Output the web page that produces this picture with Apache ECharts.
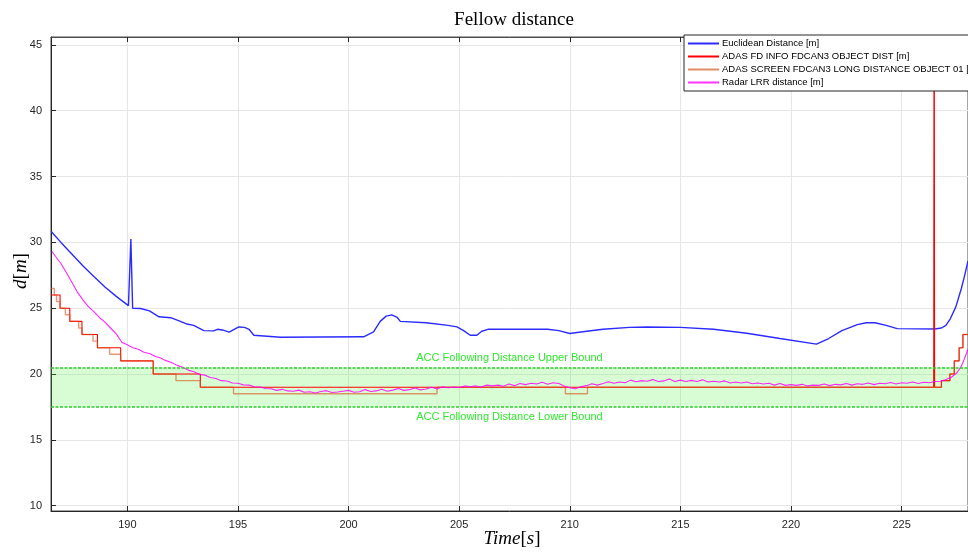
<!DOCTYPE html>
<html>
<head>
<meta charset="utf-8">
<script src="https://cdn.jsdelivr.net/npm/echarts@6/dist/echarts.min.js"></script>
<style>
  html, body { margin: 0; padding: 0; background: #fff; }
  #chart { width: 968px; height: 552px; }
</style>
</head>
<body>
<div id="chart"></div>
<script>
// time [s], distance [m]
const euclidean = [
  [186.55, 30.85], [187.0, 30.0], [187.5, 29.1], [188.0, 28.2], [188.5, 27.4], [189.0, 26.6],
  [189.5, 25.9], [190.05, 25.2], [190.12, 25.15], [190.16, 30.25], [190.2, 30.1], [190.24, 25.0],
  [190.6, 24.98], [191.0, 24.8], [191.43, 24.35], [191.96, 24.28], [192.4, 24.0], [192.7, 23.8],
  [193.0, 23.7], [193.46, 23.3], [193.9, 23.28], [194.07, 23.4], [194.3, 23.35], [194.6, 23.18],
  [195.04, 23.58], [195.3, 23.55], [195.5, 23.4], [195.72, 22.95], [196.92, 22.8], [200.68, 22.83],
  [201.13, 23.2], [201.43, 24.0], [201.7, 24.4], [201.95, 24.5], [202.2, 24.3], [202.34, 24.0],
  [203.5, 23.9], [204.5, 23.7], [204.9, 23.58], [205.2, 23.3], [205.5, 22.95], [205.8, 22.95],
  [206.02, 23.25], [206.3, 23.4], [209.0, 23.4], [209.5, 23.3], [210.0, 23.08], [210.5, 23.2],
  [211.5, 23.4], [212.7, 23.55], [213.5, 23.58], [215.0, 23.55], [216.5, 23.4], [218.0, 23.1],
  [219.5, 22.7], [221.15, 22.27], [221.7, 22.7], [222.3, 23.3], [223.0, 23.75], [223.4, 23.9],
  [223.8, 23.9], [224.3, 23.7], [224.8, 23.45], [226.5, 23.42], [226.8, 23.5], [227.0, 23.7],
  [227.2, 24.2], [227.45, 25.1], [227.7, 26.5], [227.85, 27.5], [228.0, 28.6]
];

// step values: each value holds until the next time
const fdInfoDist = [
  [186.55, 26], [186.96, 25], [187.4, 24], [187.95, 23], [188.65, 22], [189.7, 21],
  [191.17, 20], [193.3, 19], [226.45, 19], [226.47, 60], [226.49, 19], [226.8, 19.5],
  [227.18, 20], [227.38, 21], [227.6, 22], [227.77, 23], [228.0, 23]
];

const screenLongDist = [
  [186.55, 26.5], [186.7, 26], [186.8, 25.5], [186.96, 25], [187.2, 24.5], [187.4, 24],
  [187.8, 23.5], [187.95, 23], [188.45, 22.5], [188.65, 22], [189.2, 21.5], [189.7, 21],
  [191.17, 20], [192.2, 19.5], [193.3, 19], [194.8, 18.5], [204.0, 19], [209.8, 18.5],
  [210.8, 19], [226.8, 19.5], [227.18, 20], [227.38, 21], [227.6, 22], [227.77, 23], [228.0, 23]
];

const radarLrr = [
  [186.6, 29.30], [186.75, 28.95], [187.0, 28.40], [187.25, 27.70], [187.5, 26.95], [187.75, 26.20],
  [188.0, 25.62], [188.25, 25.10], [188.5, 24.72], [188.75, 24.28], [189.0, 23.92], [189.25, 23.48],
  [189.5, 23.05], [189.75, 22.42], [190.0, 22.22], [190.25, 22.00], [190.5, 21.88], [190.75, 21.66],
  [191.0, 21.56], [191.25, 21.36], [191.5, 21.22], [191.75, 21.02], [192.0, 20.88], [192.25, 20.66],
  [192.5, 20.52], [192.75, 20.30], [193.0, 20.17], [193.25, 19.98], [193.5, 19.92], [193.75, 19.74],
  [194.0, 19.66], [194.25, 19.50], [194.5, 19.47], [194.75, 19.32], [195.0, 19.30], [195.25, 19.18],
  [195.5, 19.16], [195.75, 19.04], [196.0, 19.02], [196.25, 18.90], [196.5, 18.88], [196.75, 18.76],
  [197.0, 18.84], [197.25, 18.72], [197.5, 18.70], [197.75, 18.78], [198.0, 18.62], [198.25, 18.66],
  [198.5, 18.56], [198.75, 18.68], [199.0, 18.74], [199.25, 18.60], [199.5, 18.64], [199.75, 18.70],
  [200.0, 18.76], [200.25, 18.62], [200.5, 18.66], [200.75, 18.82], [201.0, 18.68], [201.25, 18.72],
  [201.5, 18.84], [201.75, 18.70], [202.0, 18.78], [202.25, 18.90], [202.5, 18.76], [202.75, 18.82],
  [203.0, 18.94], [203.25, 18.80], [203.5, 18.86], [203.75, 19.00], [204.0, 18.86], [204.25, 19.04],
  [204.5, 18.96], [204.75, 19.02], [205.0, 18.98], [205.25, 19.10], [205.5, 19.04], [205.75, 19.10],
  [206.0, 19.02], [206.25, 19.16], [206.5, 19.10], [206.75, 19.16], [207.0, 19.08], [207.25, 19.24],
  [207.5, 19.12], [207.75, 19.28], [208.0, 19.20], [208.25, 19.30], [208.5, 19.24], [208.75, 19.38],
  [209.0, 19.22], [209.25, 19.34], [209.5, 19.28], [209.75, 19.10], [210.0, 18.96], [210.25, 18.88],
  [210.5, 19.04], [210.75, 19.12], [211.0, 19.26], [211.25, 19.16], [211.5, 19.28], [211.75, 19.42],
  [212.0, 19.30], [212.25, 19.40], [212.5, 19.34], [212.75, 19.54], [213.0, 19.42], [213.25, 19.50],
  [213.5, 19.46], [213.75, 19.58], [214.0, 19.44], [214.25, 19.48], [214.5, 19.62], [214.75, 19.44],
  [215.0, 19.54], [215.25, 19.44], [215.5, 19.52], [215.75, 19.44], [216.0, 19.56], [216.25, 19.40],
  [216.5, 19.46], [216.75, 19.40], [217.0, 19.48], [217.25, 19.32], [217.5, 19.40], [217.75, 19.32],
  [218.0, 19.40], [218.25, 19.26], [218.5, 19.32], [218.75, 19.24], [219.0, 19.30], [219.25, 19.16],
  [219.5, 19.28], [219.75, 19.14], [220.0, 19.20], [220.25, 19.14], [220.5, 19.22], [220.75, 19.10],
  [221.0, 19.16], [221.25, 19.14], [221.5, 19.24], [221.75, 19.12], [222.0, 19.22], [222.25, 19.18],
  [222.5, 19.28], [222.75, 19.16], [223.0, 19.26], [223.25, 19.22], [223.5, 19.32], [223.75, 19.20],
  [224.0, 19.30], [224.25, 19.26], [224.5, 19.36], [224.75, 19.24], [225.0, 19.34], [225.25, 19.30],
  [225.5, 19.40], [225.75, 19.28], [226.0, 19.38], [226.25, 19.34], [226.5, 19.44], [226.75, 19.46],
  [227.0, 19.58], [227.25, 19.76], [227.5, 20.10], [227.7, 20.60], [227.85, 21.20], [228.0, 21.90]
];

const seriesNames = [
  'Euclidean Distance [m]',
  'ADAS FD INFO FDCAN3 OBJECT DIST [m]',
  'ADAS SCREEN FDCAN3 LONG DISTANCE OBJECT 01 [m]',
  'Radar LRR distance [m]'
];
const accBounds = [17.5, 20.5];
const xTicks = [190, 195, 200, 205, 210, 215, 220, 225];
const yTicks = [10, 15, 20, 25, 30, 35, 40, 45];

const chart = echarts.init(document.getElementById('chart'));
const axisColor = '#262626';
const gridColor = '#e6e6e6';
const sans = 'Liberation Sans, Arial, sans-serif';
const serif = 'Liberation Serif, DejaVu Serif, serif';

chart.setOption({
  animation: false,
  grid: { left: 51, right: 0, top: 37, bottom: 41, show: true, borderColor: '#4d4d4d', borderWidth: 1 },
  xAxis: [{
    type: 'value', min: 186.55, max: 228,
    axisLine: { show: true, lineStyle: { color: axisColor } },
    axisTick: { inside: true, length: 5, customValues: xTicks, lineStyle: { color: axisColor } },
    axisLabel: { customValues: xTicks, color: axisColor, fontFamily: sans, fontSize: 11, margin: 8 },
    splitLine: { show: true, lineStyle: { color: gridColor } }
  }, {
    type: 'value', min: 186.55, max: 228, position: 'top',
    axisLine: { show: true, lineStyle: { color: '#4d4d4d' } },
    axisTick: { inside: true, length: 5, customValues: xTicks, lineStyle: { color: axisColor } },
    axisLabel: { show: false },
    splitLine: { show: false }
  }],
  yAxis: {
    type: 'value', min: 9.6, max: 45.6,
    axisLine: { show: true, lineStyle: { color: axisColor } },
    axisTick: { inside: true, length: 5, customValues: yTicks, lineStyle: { color: axisColor } },
    axisLabel: { customValues: yTicks, color: axisColor, fontFamily: sans, fontSize: 11, margin: 9 },
    splitLine: { show: true, lineStyle: { color: gridColor } }
  },
  legend: {
    data: seriesNames,
    orient: 'vertical',
    left: 684, top: 35,
    padding: [2, 4, 2, 4],
    itemGap: 0,
    itemWidth: 31, itemHeight: 2,
    icon: 'rect',
    backgroundColor: '#fff',
    borderColor: '#262626', borderWidth: 1,
    textStyle: { fontFamily: sans, fontSize: 9.5, color: '#000', lineHeight: 13, padding: [0, 0, 0, -2] }
  },
  graphic: [
    { type: 'text', x: 514, y: 20, style: { text: 'Fellow distance', font: '19px ' + serif, fill: '#000', textAlign: 'center', textVerticalAlign: 'middle' } },
    { type: 'text', x: 512, y: 539, style: {
      text: '{i|Time}[{i|s}]', textAlign: 'center', textVerticalAlign: 'middle',
      font: '19px ' + serif, fill: '#000',
      rich: { i: { fontStyle: 'italic', fontFamily: serif, fontSize: 19 } }
    } },
    { type: 'text', x: 21, y: 271, rotation: Math.PI / 2, style: {
      text: '{i|d}[{i|m}]', textAlign: 'center', textVerticalAlign: 'middle',
      font: '19px ' + serif, fill: '#000',
      rich: { i: { fontStyle: 'italic', fontFamily: serif, fontSize: 19 } }
    } }
  ],
  series: [
    {
      name: 'acc band', type: 'line', data: [], silent: true,
      markArea: {
        silent: true,
        itemStyle: { color: 'rgba(60,240,40,0.2)' },
        data: [[{ yAxis: accBounds[0] }, { yAxis: accBounds[1] }]]
      },
      markLine: {
        silent: true, symbol: ['none', 'none'],
        lineStyle: { color: '#2ecc2e', type: [3, 1.5], width: 1.5, opacity: 1 },
        label: { color: '#2ee82e', fontFamily: sans, fontSize: 11, distance: 4 },
        data: [
          { yAxis: accBounds[1], label: { position: 'insideMiddleTop', formatter: 'ACC Following Distance Upper Bound' } },
          { yAxis: accBounds[0], label: { position: 'insideMiddleBottom', formatter: 'ACC Following Distance Lower Bound' } }
        ]
      }
    },
    {
      name: seriesNames[0], type: 'line', data: euclidean, showSymbol: false, clip: true,
      lineStyle: { color: '#2b2bff', width: 1.4 }, itemStyle: { color: '#2b2bff' }
    },
    {
      name: seriesNames[1], type: 'line', step: 'end', data: fdInfoDist, showSymbol: false, clip: true,
      lineStyle: { color: '#ff0000', width: 1.1 }, itemStyle: { color: '#ff0000' }
    },
    {
      name: seriesNames[2], type: 'line', step: 'end', data: screenLongDist, showSymbol: false, clip: true,
      lineStyle: { color: '#d95319', width: 1.4, opacity: 0.6 }, itemStyle: { color: '#e58a62' }
    },
    {
      name: seriesNames[3], type: 'line', data: radarLrr, showSymbol: false, clip: true,
      lineStyle: { color: '#ff00ff', width: 1.1, opacity: 0.85 }, itemStyle: { color: '#ff33ff' }
    }
  ]
});
</script>
</body>
</html>
